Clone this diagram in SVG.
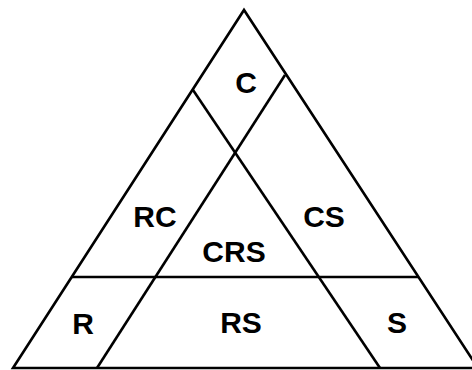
<svg xmlns="http://www.w3.org/2000/svg" width="472" height="370" viewBox="0 0 472 370">
<style>
.ln{stroke:#000;stroke-width:2.6;fill:none;stroke-linejoin:miter}
.lb{font-family:"Liberation Sans",Arial,sans-serif;font-weight:bold;font-size:30px;fill:#000;text-anchor:middle}
</style>
<rect width="472" height="370" fill="#fff"/>
<g id="connectors">
<path class="ln" d="M13,368 L244,10 L478,368 Z"/>
<line class="ln" x1="72" y1="277" x2="418" y2="277"/>
<line class="ln" x1="97" y1="368" x2="285" y2="75"/>
<line class="ln" x1="380" y1="368" x2="193" y2="90"/>
</g>
<g id="C"><text class="lb" x="246" y="93">C</text></g>
<g id="RC"><text class="lb" x="155" y="227">RC</text></g>
<g id="CS"><text class="lb" x="324" y="227">CS</text></g>
<g id="CRS"><text class="lb" x="234" y="262">CRS</text></g>
<g id="R"><text class="lb" x="83" y="334">R</text></g>
<g id="RS"><text class="lb" x="241" y="333">RS</text></g>
<g id="S"><text class="lb" x="397" y="333">S</text></g>
</svg>
